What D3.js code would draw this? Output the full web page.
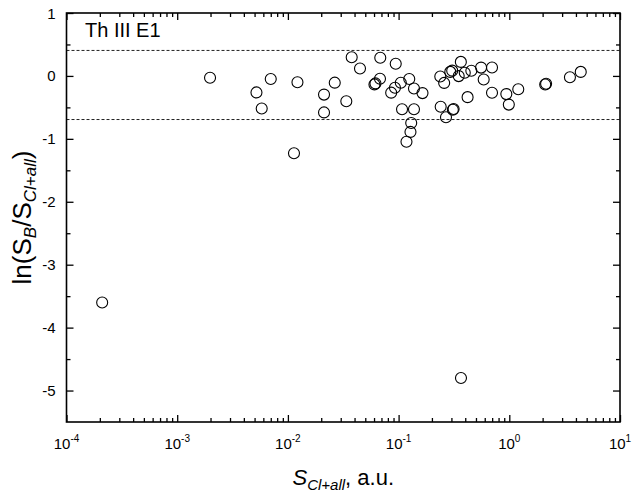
<!DOCTYPE html>
<html>
<head>
<meta charset="utf-8">
<script src="https://cdn.jsdelivr.net/npm/d3@7"></script>
<style>
  html, body { margin: 0; padding: 0; background: #fff; }
  svg { display: block; }
  text { font-family: Arial, "Liberation Sans", sans-serif; fill: #000; }
</style>
</head>
<body>
<svg id="chart" width="633" height="494"></svg>
<script>
// ---- data ----
const sCl = [
  0.00198, 0.0052, 0.0058, 0.0070, 0.0122, 0.01135, 0.0212, 0.0212, 0.0265, 0.0337,
  0.0377, 0.0448, 0.0605, 0.0618, 0.0679, 0.0683, 0.0942, 0.0857, 0.0927, 0.1047,
  0.1248, 0.1377, 0.1644, 0.1074, 0.1377, 0.130, 0.128, 0.1178, 0.238, 0.258,
  0.293, 0.305, 0.365, 0.349, 0.396, 0.454, 0.556, 0.698, 0.587, 0.42,
  0.698, 0.94, 0.99, 1.205, 0.240, 0.268, 0.309, 0.314, 2.11, 2.15,
  3.53, 4.42, 0.00021, 0.366
];
const lnRatio = [
  -0.03, -0.262, -0.517, -0.048, -0.10, -1.229, -0.297, -0.58, -0.107, -0.402,
  0.297, 0.119, -0.135, -0.119, -0.045, 0.289, 0.194, -0.266, -0.188, -0.108,
  -0.048, -0.199, -0.273, -0.529, -0.529, -0.747, -0.890, -1.046, -0.008, -0.111,
  0.064, 0.084, 0.223, -0.003, 0.051, 0.083, 0.132, 0.135, -0.056, -0.337,
  -0.267, -0.289, -0.456, -0.211, -0.49, -0.657, -0.537, -0.525, -0.137, -0.124,
  -0.021, 0.064, -3.60, -4.80
];
const refLines = [0.405, -0.693];
const xMajor = [1e-4, 1e-3, 1e-2, 1e-1, 1, 10];
const xExp = ["-4", "-3", "-2", "-1", "0", "1"];
const yMajor = [1, 0, -1, -2, -3, -4, -5];
const yMinor = [0.5, -0.5, -1.5, -2.5, -3.5, -4.5];
const panelLabel = "Th III E1";

// ---- layout ----
const L = 66.5, R = 620, T = 13, B = 422;
const svg = d3.select("#chart");
const x = d3.scaleLog().domain([1e-4, 10]).range([L, R]);
const y = d3.scaleLinear().domain([-5.5, 1]).range([B, T]);

const xMinor = [];
for (let e = -4; e < 1; e++) for (let k = 2; k <= 9; k++) xMinor.push(k * Math.pow(10, e));

// reference dashed lines
svg.selectAll("line.ref").data(refLines).enter().append("line")
  .attr("class", "ref")
  .attr("x1", L).attr("x2", R)
  .attr("y1", d => y(d)).attr("y2", d => y(d))
  .attr("stroke", "#222").attr("stroke-width", 1)
  .attr("stroke-dasharray", "3,2");

// points
svg.selectAll("circle.pt").data(sCl.map((v, i) => [v, lnRatio[i]])).enter().append("circle")
  .attr("class", "pt")
  .attr("cx", d => x(d[0])).attr("cy", d => y(d[1]))
  .attr("r", 5.5)
  .attr("fill", "none").attr("stroke", "#000").attr("stroke-width", 1.1);

// axes
function styleAxis(g) {
  g.select(".domain").remove();
  g.selectAll("line").attr("stroke", "#000").attr("stroke-width", 1.3);
}
const fmtNone = () => "";
svg.append("g").attr("transform", `translate(0,${B})`)
  .call(d3.axisBottom(x).tickValues(xMajor).tickSize(-7).tickFormat(fmtNone)).call(styleAxis);
svg.append("g").attr("transform", `translate(0,${B})`)
  .call(d3.axisBottom(x).tickValues(xMinor).tickSize(-4).tickFormat(fmtNone)).call(styleAxis);
svg.append("g").attr("transform", `translate(0,${T})`)
  .call(d3.axisTop(x).tickValues(xMajor).tickSize(-7).tickFormat(fmtNone)).call(styleAxis);
svg.append("g").attr("transform", `translate(0,${T})`)
  .call(d3.axisTop(x).tickValues(xMinor).tickSize(-4).tickFormat(fmtNone)).call(styleAxis);

svg.append("g").attr("transform", `translate(${L},0)`)
  .call(d3.axisLeft(y).tickValues(yMajor).tickSize(-7).tickFormat(fmtNone)).call(styleAxis);
svg.append("g").attr("transform", `translate(${L},0)`)
  .call(d3.axisLeft(y).tickValues(yMinor).tickSize(-4).tickFormat(fmtNone)).call(styleAxis);
svg.append("g").attr("transform", `translate(${R},0)`)
  .call(d3.axisRight(y).tickValues(yMajor).tickSize(-7).tickFormat(fmtNone)).call(styleAxis);
svg.append("g").attr("transform", `translate(${R},0)`)
  .call(d3.axisRight(y).tickValues(yMinor).tickSize(-4).tickFormat(fmtNone)).call(styleAxis);

// frame
svg.append("rect").attr("x", L).attr("y", T).attr("width", R - L).attr("height", B - T)
  .attr("fill", "none").attr("stroke", "#000").attr("stroke-width", 1.6);

// y tick labels
svg.selectAll("text.ytl").data(yMajor).enter().append("text")
  .attr("class", "ytl")
  .attr("x", L - 11).attr("y", d => y(d) + 5.5)
  .attr("text-anchor", "end").attr("font-size", 15)
  .text(d => d);

// x tick labels
xMajor.forEach((v, i) => {
  const t = svg.append("text")
    .attr("x", x(v)).attr("y", B + 27)
    .attr("text-anchor", "middle").attr("font-size", 15);
  t.append("tspan").text("10");
  t.append("tspan").attr("dy", -7).attr("font-size", 10).text(xExp[i]);
});

// panel label
svg.append("text").attr("x", 85).attr("y", 37).attr("font-size", 20).text(panelLabel);

// x axis title
const xt = svg.append("text")
  .attr("x", (L + R) / 2).attr("y", 485)
  .attr("text-anchor", "middle").attr("font-size", 22);
xt.append("tspan").attr("font-style", "italic").text("S");
xt.append("tspan").attr("font-size", 15).attr("font-style", "italic").attr("dy", 5).text("Cl+all");
xt.append("tspan").attr("dy", -5).text(", a.u.");

// y axis title
const yt = svg.append("text")
  .attr("transform", `translate(31,${(T + B) / 2}) rotate(-90)`)
  .attr("text-anchor", "middle").attr("font-size", 26);
yt.append("tspan").text("ln(S");
yt.append("tspan").attr("font-size", 17).attr("font-style", "italic").attr("dy", 5).text("B");
yt.append("tspan").attr("dy", -5).text("/S");
yt.append("tspan").attr("font-size", 17).attr("font-style", "italic").attr("dy", 5).text("Cl+all");
yt.append("tspan").attr("dy", -5).text(")");
</script>
</body>
</html>
